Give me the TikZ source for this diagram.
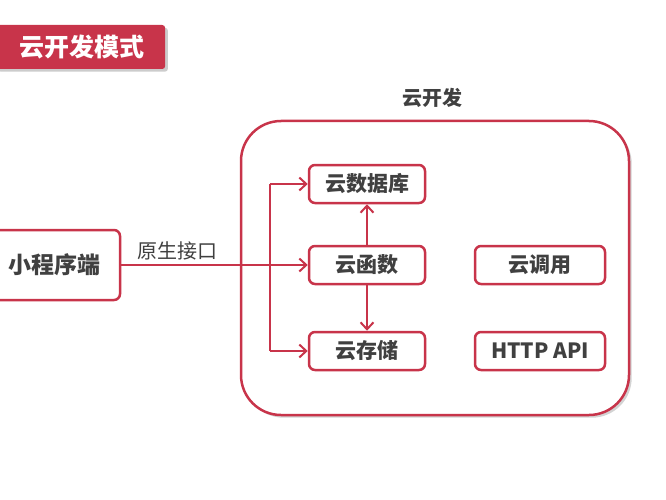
\documentclass[tikz,border=0pt]{standalone}
\usepackage{fontspec}
\setmainfont{Noto Sans CJK SC}
\usepackage{tikz}
\usetikzlibrary{positioning,arrows.meta,shadows}
\definecolor{cloudred}{HTML}{C8344A}
\definecolor{textgray}{HTML}{404040}

\begin{document}
\begin{tikzpicture}[x=1pt,y=-1pt]
	\useasboundingbox (0,0) rectangle (666,500);
	\tikzset{box/.style={draw=cloudred,line width=2.5pt,rounded corners=6pt,fill=white,
		font=\fontsize{21}{21}\selectfont\bfseries,text=textgray,minimum height=38pt,inner sep=0pt},
		link/.style={draw=cloudred,line width=2pt,-{Straight Barb[length=7pt,width=13pt]}}}
	% title
	\node[fill=cloudred,rounded corners=3pt,drop shadow={opacity=0.4},minimum width=170pt,minimum height=44pt,
		font=\fontsize{25}{25}\selectfont\bfseries,text=white,anchor=west,inner sep=0pt,
		align=left,text width=150pt] (title) at (-5,47) {\hspace*{14pt}云开发模式};
	% cloud frame
	\node[draw=cloudred,fill=white,line width=2.5pt,rounded corners=40pt,minimum width=388pt,minimum height=294pt,
		drop shadow={opacity=0.35}] (frame) at (435,268) {};
	\node[font=\fontsize{20}{20}\selectfont\bfseries,text=textgray] (cloud) at (432,98) {云开发};
	\begin{scope}[every node/.style={box,minimum width=116pt}]
		\node (db) at (367,184) {云数据库};
		\node (fn) at (367,265) {云函数};
		\node (st) at (367,351) {云存储};
	\end{scope}
	\begin{scope}[every node/.style={box,minimum width=130pt}]
		\node (call) at (540,265) {云调用};
		\node (http) at (540,351) {HTTP API};
	\end{scope}
	\node[box,minimum width=130pt,minimum height=70pt,font=\fontsize{23}{23}\selectfont\bfseries] (app) at (55,265) {小程序端};
	\coordinate (top) at (270,184);
	\coordinate (bot) at (270,351);
	\draw[link] (app.east) -- node[pos=0.3,above=1pt,font=\fontsize{20}{20}\selectfont,text=textgray] {原生接口} (fn.west);
	\draw[link] (top) -- (db.west);
	\draw[link] (bot) -- (st.west);
	\draw[draw=cloudred,line width=2pt] (top) -- (bot);
	\draw[link] (fn.north) -- (db.south);
	\draw[link] (fn.south) -- (st.north);
\end{tikzpicture}
\end{document}
